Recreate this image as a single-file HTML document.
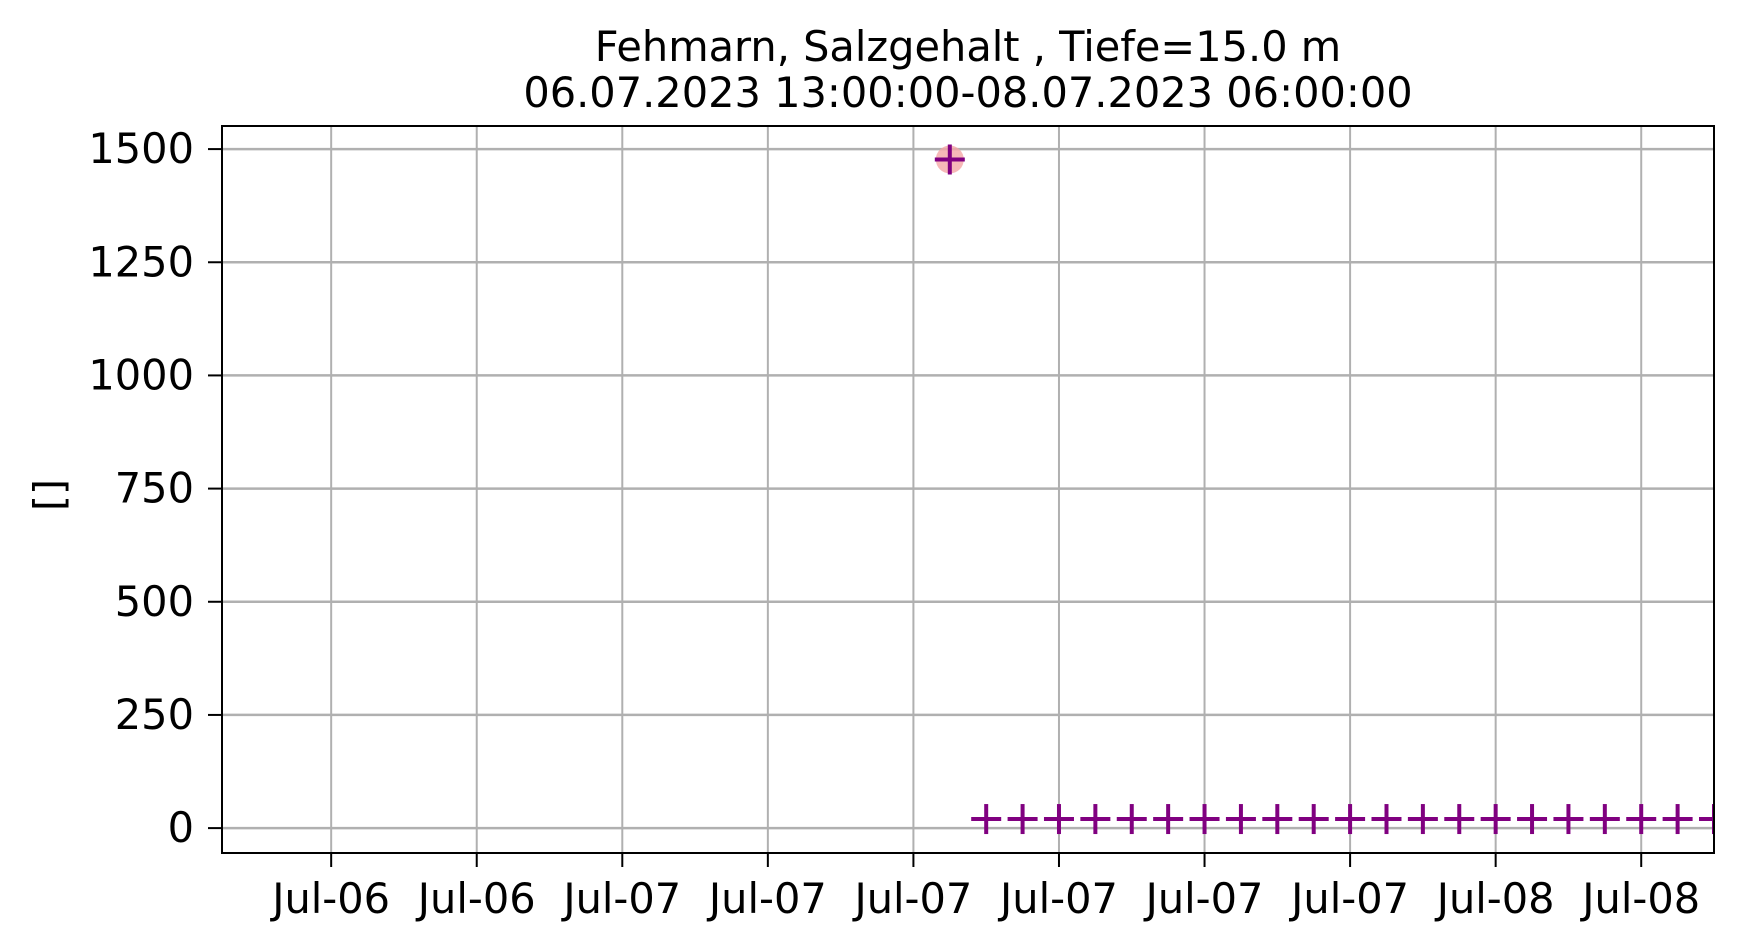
<!DOCTYPE html>
<html><head><meta charset="utf-8"><style>html,body{margin:0;padding:0;background:#fff}svg{display:block}</style></head>
<body>
<svg id="chart" width="1742" height="952" viewBox="0 0 1742 952" xmlns="http://www.w3.org/2000/svg" font-family="DejaVu Sans, Liberation Sans, sans-serif">
<defs><clipPath id="plotclip"><rect x="222" y="126" width="1492" height="727"/></clipPath></defs>
<rect width="1742" height="952" fill="#fff"/>
<text x="968" y="61" font-size="41.5" text-anchor="middle">Fehmarn, Salzgehalt , Tiefe=15.0 m</text>
<text x="968" y="107" font-size="41.5" text-anchor="middle">06.07.2023 13:00:00-08.07.2023 06:00:00</text>
<g id="grid"></g>
<g id="marks" clip-path="url(#plotclip)"></g>
<rect x="222" y="126" width="1492" height="727" fill="none" stroke="#000" stroke-width="2"/>
<g id="axes"></g>
<text x="63" y="495" font-size="41" text-anchor="middle" transform="rotate(-90 63 495)">[]</text>
</svg>
<script>
// data: hours after 06.07.2023 13:00
const yTicks = [0, 250, 500, 750, 1000, 1250, 1500];
const xTickHours = [3, 7, 11, 15, 19, 23, 27, 31, 35, 39];
const xTickLabels = ["Jul-06","Jul-06","Jul-07","Jul-07","Jul-07","Jul-07","Jul-07","Jul-07","Jul-08","Jul-08"];
const flaggedHours = [20];
const flaggedValues = [1477];
const seriesHours = [21,22,23,24,25,26,27,28,29,30,31,32,33,34,35,36,37,38,39,40,41];
const seriesValues = [20,20,20,20,20,20,20,20,20,20,20,20,20,20,20,20,20,20,20,20,20];

const L=222,R=1714,T=126,B=853;
const xMin=0,xMax=41,yMin=-55,yMax=1551;
const xs=h=>L+(h-xMin)/(xMax-xMin)*(R-L);
const ys=v=>B-(v-yMin)/(yMax-yMin)*(B-T);
const NS="http://www.w3.org/2000/svg";
function mk(tag,attrs,parent){const e=document.createElementNS(NS,tag);for(const k in attrs)e.setAttribute(k,attrs[k]);parent.appendChild(e);return e;}
const grid=document.getElementById('grid'),axes=document.getElementById('axes'),marks=document.getElementById('marks');
yTicks.forEach(v=>{
  const y=ys(v);
  const g=mk('line',{x1:L,x2:R,y1:y,y2:y,stroke:'#b0b0b0','stroke-width':2.5},grid);
  
  
  const t=mk('line',{x1:L-14,x2:L,y1:y,y2:y,stroke:'#000','stroke-width':2},axes);
  
  
  const tx=mk('text',{x:L-28,y:y+14,'font-size':41.5,'text-anchor':'end'},axes);
  tx.textContent=v;
  
  
});
xTickHours.forEach((h,i)=>{
  const x=xs(h);
  const g=mk('line',{x1:x,x2:x,y1:T,y2:B,stroke:'#b0b0b0','stroke-width':2},grid);
  
  
  const t=mk('line',{x1:x,x2:x,y1:B,y2:B+14,stroke:'#000','stroke-width':2},axes);
  
  
  const tx=mk('text',{x:x,y:B+60,'font-size':41.5,'text-anchor':'middle'},axes);
  tx.textContent=xTickLabels[i];
  
  
});
function cross(x,y,name){
  const g=mk('g',{stroke:'#800080','stroke-width':4},marks);
  
  
  mk('line',{x1:x-15,x2:x+15,y1:y,y2:y},g);
  mk('line',{x1:x,x2:x,y1:y-15,y2:y+15},g);
}
flaggedHours.forEach((h,i)=>{
  const c=mk('circle',{cx:xs(h),cy:ys(flaggedValues[i]),r:14,fill:'#f4a6a6','fill-opacity':0.8},marks);
  
  
  cross(xs(h),ys(flaggedValues[i]),'flagged-point');
});
seriesHours.forEach((h,i)=>cross(xs(h),ys(seriesValues[i]),'data-point'));
</script>
</body></html>
